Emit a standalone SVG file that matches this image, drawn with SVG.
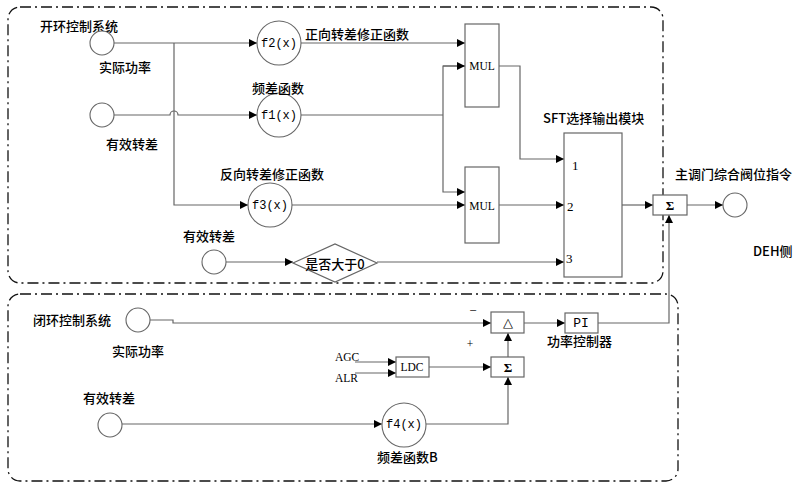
<svg xmlns="http://www.w3.org/2000/svg" width="804" height="483" viewBox="0 0 804 483">
<style>
.bg{fill:#ffffff}
.frame{fill:none;stroke:#111;stroke-width:1.3;stroke-dasharray:11 4 2 4}
.ln{fill:none;stroke:#666;stroke-width:1.2}
.bx{fill:#fff;stroke:#666;stroke-width:1.2}
.cir{fill:#fff;stroke:#666;stroke-width:1.1}
.cjk{font-family:"Noto Sans CJK SC","Liberation Serif",sans-serif;font-size:13px;font-weight:500;fill:#000;dominant-baseline:central}
.mono{font-family:"Liberation Mono",monospace;font-size:12px;fill:#000;text-anchor:middle;dominant-baseline:central}
.ser{font-family:"Liberation Serif",serif;font-size:11.5px;fill:#000;dominant-baseline:central}
.num{font-size:13px}
.sig{font-size:13px;font-weight:bold}
.mid{text-anchor:middle}
</style>
<defs>
<marker id="ar" viewBox="0 0 10 10" refX="10" refY="5" markerWidth="9" markerHeight="8" markerUnits="userSpaceOnUse" orient="auto">
<path d="M0,0 L10,5 L0,10 z" fill="#000"/>
</marker>
</defs>
<rect class="bg" x="0" y="0" width="804" height="483"/>

<g id="frames">
<rect id="open-loop-frame" class="frame" x="8" y="7" width="655" height="276" rx="12"/>
<rect id="closed-loop-frame" class="frame" x="8" y="294" width="670" height="187" rx="12"/>
</g>

<g id="connectors">
<path class="ln" d="M114,43 H257" marker-end="url(#ar)"/>
<path class="ln" d="M174,43 V205 H248" marker-end="url(#ar)"/>
<path class="ln" d="M114,115 H170 A4,4 0 0 1 178,115 H257" marker-end="url(#ar)"/>
<path class="ln" d="M301,43 H465" marker-end="url(#ar)"/>
<path class="ln" d="M301,115 H443"/>
<path class="ln" d="M465,66 H443 V192 H465" marker-end="url(#ar)"/>
<path class="ln" d="M443,66 H465" marker-end="url(#ar)"/>
<path class="ln" d="M292,205 H465" marker-end="url(#ar)"/>
<path class="ln" d="M499,66 H520 V159 H564" marker-end="url(#ar)"/>
<path class="ln" d="M499,205 H564" marker-end="url(#ar)"/>
<path class="ln" d="M226,262 H293" marker-end="url(#ar)"/>
<path class="ln" d="M377,262 H564" marker-end="url(#ar)"/>
<path class="ln" d="M622,205 H653" marker-end="url(#ar)"/>
<path class="ln" d="M687,205 H723" marker-end="url(#ar)"/>
<path class="ln" d="M598,323 H669 V215" marker-end="url(#ar)"/>
<path class="ln" d="M150,320 H173 V323 H491" marker-end="url(#ar)"/>
<path class="ln" d="M524,323 H565" marker-end="url(#ar)"/>
<path class="ln" d="M508,357 V333" marker-end="url(#ar)"/>
<path class="ln" d="M355,362 H396" marker-end="url(#ar)"/>
<path class="ln" d="M355,373 H396" marker-end="url(#ar)"/>
<path class="ln" d="M429,367 H491" marker-end="url(#ar)"/>
<path class="ln" d="M122,424 H382" marker-end="url(#ar)"/>
<path class="ln" d="M426,424 H508 V377" marker-end="url(#ar)"/>
</g>

<g id="labels">
<text class="cjk" x="40" y="25">开环控制系统</text>
<text class="cjk" x="33" y="319">闭环控制系统</text>
</g>

<g id="in-power-open">
<circle class="cir" cx="102" cy="43" r="12"/>
<text class="cjk" x="99" y="66">实际功率</text>
</g>
<g id="in-slip-open">
<circle class="cir" cx="102" cy="115" r="12"/>
<text class="cjk" x="106" y="143">有效转差</text>
</g>
<g id="f2">
<circle class="cir" cx="279" cy="43" r="22"/>
<text class="mono" x="279" y="44">f2(x)</text>
<text class="cjk" x="305" y="33">正向转差修正函数</text>
</g>
<g id="f1">
<circle class="cir" cx="279" cy="115" r="22"/>
<text class="mono" x="279" y="116">f1(x)</text>
<text class="cjk" x="252" y="87">频差函数</text>
</g>
<g id="f3">
<circle class="cir" cx="270" cy="205" r="22"/>
<text class="mono" x="270" y="206">f3(x)</text>
<text class="cjk" x="220" y="173">反向转差修正函数</text>
</g>
<g id="mul1">
<rect class="bx" x="465" y="24" width="34" height="83"/>
<text class="ser mid" x="482" y="66">MUL</text>
</g>
<g id="mul2">
<rect class="bx" x="465" y="167" width="34" height="76"/>
<text class="ser mid" x="482" y="206">MUL</text>
</g>
<g id="in-slip-open2">
<circle class="cir" cx="214" cy="262" r="12"/>
<text class="cjk" x="183" y="235">有效转差</text>
</g>
<g id="compare">
<polygon class="bx" points="293,263 335,244 377,263 335,282"/>
<text class="cjk mid" x="335" y="263">是否大于0</text>
</g>
<g id="sft">
<rect class="bx" x="564" y="133" width="58" height="144"/>
<text class="ser num" x="572" y="165">1</text>
<text class="ser num" x="567" y="206">2</text>
<text class="ser num" x="566" y="258">3</text>
<text class="cjk" x="543" y="117">SFT选择输出模块</text>
</g>
<g id="sum-out">
<rect class="bx" x="653" y="195" width="34" height="20"/>
<text class="ser mid sig" x="670" y="205">Σ</text>
</g>
<g id="out">
<circle class="cir" cx="735" cy="205" r="12"/>
<text class="cjk" x="675" y="173">主调门综合阀位指令</text>
<text class="cjk" x="753" y="250">DEH侧</text>
</g>

<g id="in-power-closed">
<circle class="cir" cx="138" cy="320" r="12"/>
<text class="cjk" x="112" y="350">实际功率</text>
</g>
<g id="in-slip-closed">
<circle class="cir" cx="110" cy="425" r="12"/>
<text class="cjk" x="83" y="397">有效转差</text>
</g>
<g id="delta">
<rect class="bx" x="491" y="312" width="33" height="21"/>
<text class="ser mid num" x="508" y="322">△</text>
<text class="ser mid num" x="473" y="310">−</text>
<text class="ser mid" x="470" y="344">+</text>
</g>
<g id="pi">
<rect class="bx" x="565" y="313" width="33" height="20"/>
<text class="mono num" x="581" y="323">PI</text>
<text class="cjk" x="547" y="340">功率控制器</text>
</g>
<g id="sum2">
<rect class="bx" x="491" y="357" width="33" height="20"/>
<text class="ser mid sig" x="508" y="367">Σ</text>
</g>
<g id="ldc">
<rect class="bx" x="396" y="357" width="33" height="20"/>
<text class="ser mid" x="412" y="367">LDC</text>
<text class="ser" x="335" y="357">AGC</text>
<text class="ser" x="335" y="378">ALR</text>
</g>
<g id="f4">
<circle class="cir" cx="404" cy="425" r="22"/>
<text class="mono" x="404" y="425">f4(x)</text>
<text class="cjk" x="377" y="456">频差函数B</text>
</g>
</svg>
